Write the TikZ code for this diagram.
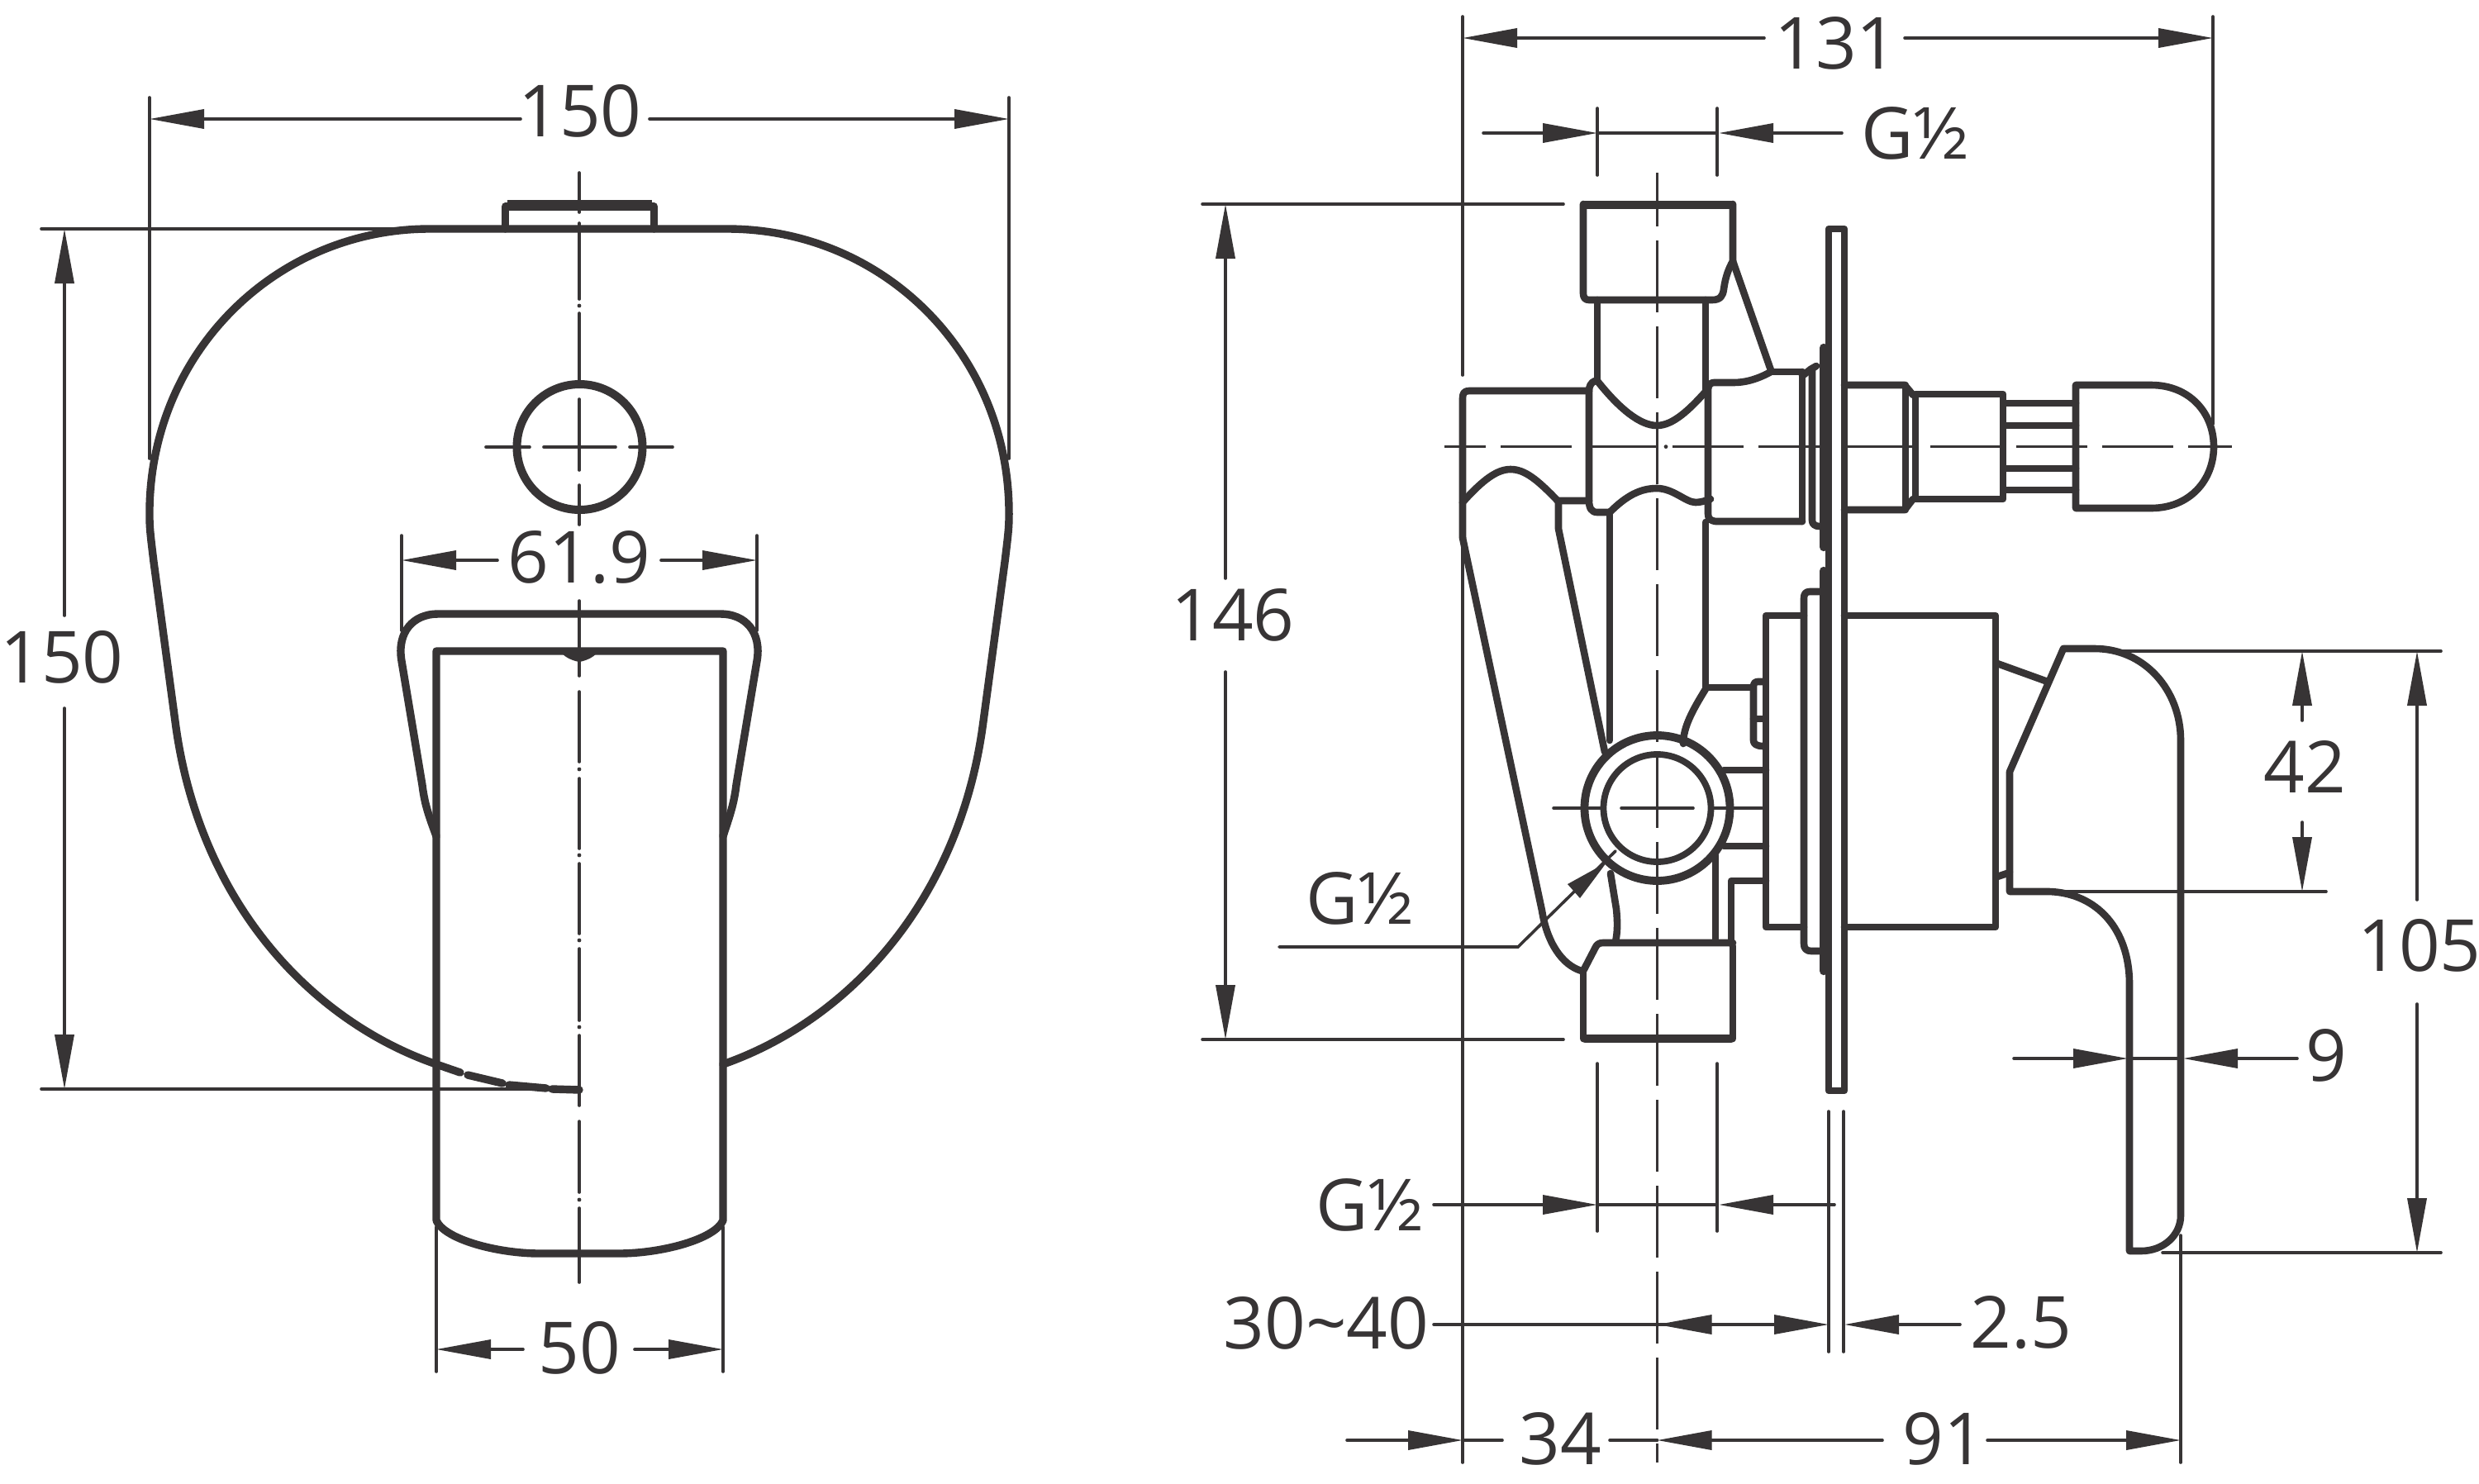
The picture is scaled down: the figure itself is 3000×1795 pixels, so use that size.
\documentclass[tikz,border=0pt]{standalone}
\usepackage{fontspec}
\setmainfont{Open Sans}
\usetikzlibrary{arrows.meta}
\definecolor{ink}{HTML}{373435}
\tikzset{
  thk/.style={draw=ink,line width=4.3pt,line join=round,line cap=round},
  lft/.style={draw=ink,line width=4.7pt,line join=round,line cap=round},
  thkk/.style={draw=ink,line width=5.2pt,line join=round,line cap=round},
  thn/.style={draw=ink,line width=1.8pt,line cap=round},
  cl/.style={draw=ink,line width=1.8pt,dash pattern=on 43pt off 9pt},
  tipend/.tip={Triangle[length=33pt,width=11.5pt]},
  dimr/.style={thn,-tipend},
  lab/.style={text=ink,inner sep=0pt,font=\fontsize{43.5}{50}\selectfont},
}
\begin{document}
\begin{tikzpicture}[x=0.5pt,y=-0.5pt]
\useasboundingbox[fill=white] (0,0) rectangle (3000,1795);

%% ---------- LEFT VIEW ----------
% plate
\path[lft] (528,1288) .. controls (375,1235) and (240,1090) .. (212,873) -- (186,680)
  .. controls (183,655) and (181,640) .. (181,627)
  .. controls (178,430) and (332,277) .. (520,277) -- (880,277)
  .. controls (1070,277) and (1224,430) .. (1221,627)
  .. controls (1221,640) and (1219,655) .. (1216,680) -- (1190,873)
  .. controls (1162,1090) and (1027,1235) .. (875,1288);
\path[lft] (528,1288) -- (557,1298) (566,1301) -- (608,1311) (616,1313) -- (661,1317) (668,1318) -- (701,1319);
% tab
\path[lft] (611.5,277) -- (611.5,250) -- (791.5,250) -- (791.5,277);
\path[draw=ink,line width=6pt] (614,248) -- (789,248);
% hole
\path[draw=ink,line width=5pt] (701.5,541) circle[radius=76];
% handle
\path[lft] (528,1012) .. controls (520,990) and (514,975) .. (511,950) -- (486,800)
  .. controls (480,765) and (500,743) .. (530,743) -- (872,743)
  .. controls (902,743) and (922,765) .. (916,800) -- (891,950)
  .. controls (888,975) and (882,990) .. (875,1012);
\path[lft] (528,1477) -- (528,788) -- (875,788) -- (875,1477)
  .. controls (865,1500) and (800,1517) .. (749,1517) -- (653,1517)
  .. controls (602,1517) and (538,1500) .. (528,1477);
\fill[ink] (678,788) .. controls (684,798) and (700,801) .. (701,801) .. controls (702,801) and (718,798) .. (724,788) -- cycle;
% centre lines
\foreach \ya/\yb in {209/257,270/362,379/465,483/569,587/635,727/818,837/922,942/1027,1045/1130,1148/1235,1253/1338,1357/1443,1462/1552}
  \path[thn] (701,\ya) -- (701,\yb);
\foreach \yy in {370,931,1035,1138,1243,1452} \fill[ink] (701,\yy) circle[radius=2.4];
\path[thn] (588,541) -- (641,541);
\path[thn] (658,541) -- (745,541);
\path[thn] (762,541) -- (814,541);
% dimension 150 top
\path[thn] (181,118) -- (181,555);
\path[thn] (1221,118) -- (1221,555);
\node[lab] (tA) at (702,134) {150};
\coordinate (a1) at (181,144); \coordinate (a2) at (1221,144);
\draw[dimr] (630,144) -- (a1);
\draw[dimr] (786,144) -- (a2);
% dimension 150 left
\path[thn] (50,277) -- (520,277);
\path[thn] (50,1318) -- (690,1318);
\node[lab] (tB) at (75,795) {150};
\draw[dimr] (78,745) -- (78,277);
\draw[dimr] (78,857) -- (78,1318);
% 61.9
\path[thn] (486,648) -- (486,763);
\path[thn] (916,648) -- (916,763);
\node[lab] (tC) at (701,675) {61.9};
\draw[dimr] (602,678) -- (486,678);
\draw[dimr] (800,678) -- (916,678);
% 50
\path[thn] (528,1485) -- (528,1660);
\path[thn] (875,1485) -- (875,1660);
\node[lab] (tD) at (701,1631) {50};
\draw[dimr] (633,1633) -- (528,1633);
\draw[dimr] (768,1633) -- (875,1633);

%% ---------- RIGHT VIEW ----------
% top nipple
\path[thkk] (1918,248) -- (2095,248);
\path[thkk] (1918,1257) -- (2095,1257);
\path[thk] (1916,247) -- (1916,355) .. controls (1916,360) and (1918,363) .. (1923,363) -- (2072,363)
   .. controls (2082,363) and (2085,358) .. (2086,350) .. controls (2088,335) and (2092,325) .. (2097,316) -- (2097,247);
\path[thk] (1933,363) -- (1933,461);
\path[thk] (2064,363) -- (2064,474);
\path[thk] (2097,316) -- (2143,448);
% tee curves
\path[thk] (1933,461) .. controls (1960,495) and (1985,515) .. (2005,515) .. controls (2025,515) and (2045,495) .. (2064,474);
\path[thk] (2143,450) .. controls (2125,460) and (2110,463) .. (2098,463) -- (2074,463) .. controls (2070,463) and (2067,466) .. (2067,472) -- (2067,622) .. controls (2067,628) and (2070,630) .. (2076,631) -- (2181,631);
\path[thk] (2143,450) -- (2181,450);
\path[thk] (2181,450) -- (2181,631);
% collars
\path[thk] (2181,455) -- (2191,447) -- (2198,443);
\path[thk] (2193,447) -- (2193,630) .. controls (2193,634) and (2196,637) .. (2202,637);
\path[thkk] (2207,421) -- (2207,662);
\path[thkk] (2207,691) -- (2207,1175);
% mounting plate
\path[thk] (2213,1320) -- (2213,277) -- (2232,277) -- (2232,1320) -- cycle;
% left branch
\path[thk] (1930,461) .. controls (1925,463) and (1923,468) .. (1923,473) -- (1778,473) .. controls (1772,473) and (1770,476) .. (1770,482) -- (1770,651);
\path[thk] (1923,473) -- (1923,606) .. controls (1923,615) and (1926,620) .. (1933,620) -- (1948,620);
\path[thk] (1770,608) .. controls (1795,580) and (1812,568) .. (1828,568) .. controls (1845,568) and (1860,580) .. (1885,606) -- (1923,606);
\path[thk] (1948,620) .. controls (1968,600) and (1985,591) .. (2005,591) .. controls (2025,591) and (2040,608) .. (2052,608) .. controls (2058,608) and (2064,606) .. (2070,604);
\path[thk] (1948,620) -- (1948,896);
\path[thk] (1886,606) -- (1886,640) -- (1942,910);
\path[thk] (1770,651) -- (1866,1102) .. controls (1872,1140) and (1890,1168) .. (1914,1175);
% lower section
\path[thk] (2064,632) -- (2064,832) -- (2121,832);
\path[thk] (2064,834) .. controls (2048,860) and (2037,880) .. (2037,900);
\path[thk] (2134,825) -- (2127,825) .. controls (2123,825) and (2122,828) .. (2122,832) -- (2122,896) .. controls (2122,900) and (2125,903) .. (2134,903);
\path[thk] (2122,870) -- (2134,870);
% body
\path[thk] (2183,745) -- (2137,745) -- (2137,1122) -- (2183,1122);
\path[thk] (2232,745) -- (2415,745) -- (2415,1122) -- (2232,1122);
\path[thk] (2207,716) -- (2190,716) .. controls (2185,716) and (2183,719) .. (2183,724) -- (2183,1142) .. controls (2183,1148) and (2186,1151) .. (2192,1151) -- (2207,1151);
% ring
\path[draw=ink,line width=4.9pt] (2005.5,978) circle[radius=88];
\path[draw=ink,line width=3.9pt] (2005.5,978) circle[radius=65];
\path[thk] (2086,932) -- (2137,932);
\path[thk] (2086,1024) -- (2137,1024);
\path[thk] (2095,1142) -- (2095,1066) -- (2137,1066);
\path[thk] (2076,1035) -- (2076,1140);
\path[thk] (1949,1057) -- (1956,1100) .. controls (1958,1120) and (1957,1130) .. (1955,1140);
% bottom nipple
\path[thk] (1916,1175) -- (1916,1257);
\path[thk] (2097,1145) -- (2097,1257);
\path[thk] (1916,1175) -- (1930,1148) .. controls (1932,1143) and (1935,1141) .. (1940,1141) -- (2097,1141);
% right stem
\path[thk] (2232,466) -- (2305,466) -- (2315,478);
\path[thk] (2232,617) -- (2305,617) -- (2315,604);
\path[thk] (2306,466) -- (2306,617);
\path[thk] (2318,477) -- (2424,477) -- (2424,604) -- (2318,604) -- cycle;
\foreach \yy in {488,515,567,593} \path[thk] (2427,\yy) -- (2512,\yy);
% knob
\path[thk] (2512,466) -- (2603,466) .. controls (2650,466) and (2679,500) .. (2679,540.5)
  .. controls (2679,581) and (2650,615) .. (2603,615) -- (2512,615) -- cycle;
% lever
\path[thk] (2417,803) -- (2478,825);
\path[thk] (2417,1061) -- (2432,1056);
\path[thk] (2535,785) -- (2497,785) -- (2432,934) -- (2432,1079) -- (2480,1079)
  .. controls (2538,1081) and (2577,1125) .. (2577,1191) -- (2577,1514) -- (2591,1514)
  .. controls (2618,1514) and (2639,1495) .. (2639,1471) -- (2639,896)
  .. controls (2639,835) and (2595,785) .. (2535,785);
% centre lines
\path[cl,dash pattern=on 43.5pt off 8.5pt,dash phase=11pt] (2005.5,209) -- (2005.5,1770);
\path[cl,dash phase=18pt] (1748,540.6) -- (2701,540.6);
\fill[ink] (2016,540.6) circle[radius=2.4];
\path[thn] (1880,978) -- (1937,978);
\path[thn] (1962,978) -- (2049,978);
\path[thn] (2073,978) -- (2132,978);
% 131
\path[thn] (1770,20) -- (1770,454);
\path[thn] (2678,20) -- (2678,513);
\node[lab] (tE) at (2222,52) {131};
\draw[dimr] (2135,46) -- (1770,46);
\draw[dimr] (2305,46) -- (2678,46);
% G1/2 top
\path[thn] (1933,131) -- (1933,212);
\path[thn] (2078,131) -- (2078,212);
\node[lab] (tF) at (2318,161) {G½};
\draw[dimr] (1795,161) -- (1933,161);
\path[thn] (1933,161) -- (2078,161);
\draw[dimr] (2229,161) -- (2080,161);
% 146
\path[thn] (1455,247) -- (1892,247);
\path[thn] (1455,1258) -- (1892,1258);
\node[lab] (tG) at (1492,744) {146};
\draw[dimr] (1483,700) -- (1483,247);
\draw[dimr] (1483,813) -- (1483,1258);
% extension of 1770 and lower
\path[thn] (1770,651) -- (1770,1770);
% G1/2 leader
\node[lab] (tH) at (1646,1087) {G½};
\coordinate (ldA) at (1548,1146);
\coordinate (ldB) at (1837,1146);
\path[thn] (ldA) -- (ldB) -- (1955,1030);
\path[fill=ink] (1944,1044) -- (1912,1087) -- (1897,1070) -- cycle;
% G1/2 bottom
\path[thn] (1933,1287) -- (1933,1490);
\path[thn] (2078,1287) -- (2078,1490);
\node[lab] (tI) at (1658,1458) {G½};
\draw[dimr] (1735,1458) -- (1933,1458);
\path[thn] (1933,1458) -- (2078,1458);
\draw[dimr] (2220,1458) -- (2080,1458);
% plate ext
\path[thn] (2213,1345) -- (2213,1636);
\path[thn] (2231,1345) -- (2231,1636);
% 30~40
\node[lab] (tJ) at (1605,1601) {30\textasciitilde 40};
\draw[dimr] (1735,1603) -- (2213,1603);
\draw[dimr] (2110,1603) -- (2005.5,1603);
\node[lab] (tK) at (2446,1601) {2.5};
\draw[dimr] (2372,1603) -- (2232,1603);
% 34 91
\node[lab] (tL) at (1888,1741) {34};
\node[lab] (tM) at (2352,1741) {91};
\draw[dimr] (1630,1743) -- (1770,1743);
\path[thn] (1770,1743) -- (1818,1743);
\path[thn] (1948,1743) -- (2005.5,1743);
\draw[dimr] (2278,1743) -- (2005.5,1743);
\draw[dimr] (2405,1743) -- (2639,1743);
\path[thn] (2639,1495) -- (2639,1770);
% 42
\path[thn] (2555,788) -- (2954,788);
\path[thn] (2490,1079) -- (2815,1079);
\node[lab] (tN) at (2789,928) {42};
\draw[dimr] (2786,872) -- (2786,788);
\draw[dimr] (2786,995) -- (2786,1079);
% 105
\node[lab] (tO) at (2928,1144) {105};
\path[thn] (2617,1516) -- (2954,1516);
\draw[dimr] (2925,1089) -- (2925,788);
\draw[dimr] (2925,1215) -- (2925,1516);
% 9
\node[lab] (tP) at (2815,1277) {9};
\path[thn] (2577,1281) -- (2639,1281);
\draw[dimr] (2437,1281) -- (2575,1281);
\draw[dimr] (2780,1281) -- (2642,1281);
\end{tikzpicture}
\end{document}
